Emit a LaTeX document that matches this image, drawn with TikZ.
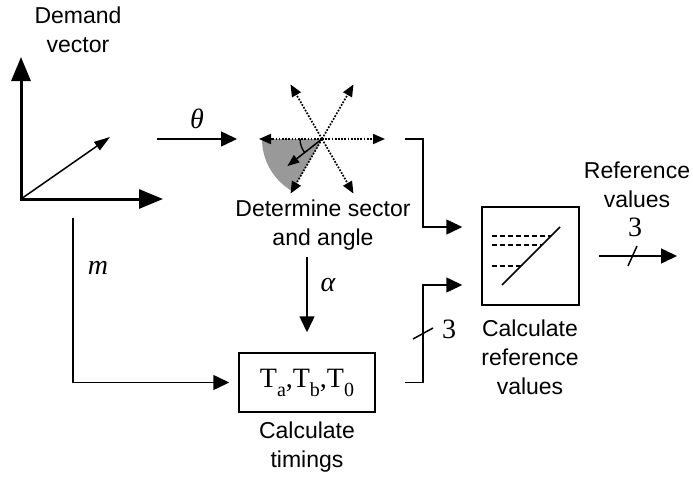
\documentclass[tikz,border=0pt]{standalone}
\usepackage{fontspec}
\setmainfont{Liberation Sans}
\newfontfamily\tmsfont{Liberation Serif}
\usetikzlibrary{arrows.meta,positioning,calc}

\begin{document}
\begin{tikzpicture}[
  x=1pt, y=-1pt,
  lbl/.style={align=center,font=\fontsize{23}{29}\selectfont,inner sep=0pt},
  sym/.style={font=\fontsize{28}{28}\selectfont\tmsfont\itshape,inner sep=0pt},
  num/.style={font=\fontsize{28}{28}\selectfont\tmsfont,inner sep=0pt},
  blk/.style={draw,line width=1.5pt,inner sep=0pt},
  arr/.style={line width=1.5pt,-{Triangle[length=16pt,width=15pt]}},
  axis/.style={line width=3pt,line join=miter,{Triangle[length=24pt,width=19pt]}-{Triangle[length=24pt,width=19pt]}},
  ray/.style={line width=1.7pt,dash pattern=on 1.7pt off 1.5pt,-{Triangle[length=12pt,width=10pt]}},
  tick/.style={line width=1.5pt}
]
\useasboundingbox (0,0) rectangle (693,479);

% demand vector
\node[lbl] (demand) at (78,30) {Demand\\vector};
\coordinate (origin) at (21,199);
\coordinate (vtip) at (21,57);
\coordinate (htip) at (163,199);
\coordinate (dtip) at (110,137);
\draw[axis] (vtip) -- (origin) -- (htip);
\draw[line width=1.5pt,-{Triangle[length=16pt,width=10pt]}] (origin) -- (dtip);

% theta
\coordinate (thA) at (157,139);
\coordinate (thB) at (237,139);
\draw[arr] (thA) -- (thB) node[sym,midway,above=9pt] (theta) {θ};

% sector star
\coordinate (sc) at (322,139);
\fill[black!40] (sc) -- ++(180:60) arc[start angle=180,end angle=120,radius=60] -- cycle;
\foreach \a in {0,60,...,300}
  \draw[ray] (sc) -- ++(\a:63) coordinate (e\a);
\draw[line width=1.3pt] ($(sc)+(180:22)$) arc[start angle=180,end angle=142,radius=22];
\draw[line width=1.5pt,-{Triangle[length=12pt,width=9pt]}] (sc) -- ++(142:44) coordinate (avec);
\node[lbl] (sector) at (323,225) {Determine sector\\and angle};

% timings
\node[blk,minimum width=136pt,minimum height=59pt,font=\fontsize{28}{28}\selectfont\tmsfont]
  (timing) at (307,382.5)
  {T\raisebox{-9pt}{\fontsize{20}{20}\selectfont a},T\raisebox{-9pt}{\fontsize{20}{20}\selectfont b},T\raisebox{-9pt}{\fontsize{20}{20}\selectfont 0}};
\node[lbl] (timcap) at (307,447) {Calculate\\timings};

% reference values
\node[blk,minimum width=97pt,minimum height=98pt] (refbox) at (530.5,256) {};
\draw[line width=1.5pt] ($(refbox.center)+(-28.5,29)$) -- ($(refbox.center)+(29.5,-29)$);
\foreach \y/\x in {-20/20.5,-11/11.5,10/-9.5}
  \draw[line width=1.4pt,dash pattern=on 5pt off 3pt] ($(refbox.center)+(-38.5,\y)$) -- ($(refbox.center)+(\x,\y)$);
\node[lbl] (refcap) at (530,357) {Calculate\\reference\\values};

% connectors
\coordinate (bendx) at (423,0);
\coordinate (mtop) at (73,218);
\coordinate (atop) at (307,257);
\coordinate (outend) at (677,256);
\draw[arr,shorten <=20pt,shorten >=19pt] (e0) -- (e0 -| bendx) |- ($(refbox.west)+(0,-29)$);
\draw[arr,shorten <=29pt,shorten >=19pt] (timing.east) -- (timing.east -| bendx) |- ($(refbox.west)+(0,29)$);
\draw[arr,shorten >=9pt] (mtop) |- (timing.west);
\draw[arr,shorten >=20pt] (atop) -- (timing.north);
\draw[arr,shorten <=19pt] (refbox.east) -- (outend);

% labels
\node[sym] (mlbl) at (98,268) {m};
\node[sym] (alpha) at (328,285) {α};
\draw[tick] (413,339) -- (433,328);
\node[num] (n3a) at (449,329) {3};
\draw[tick] (628,266) -- (637,246);
\node[num] (n3b) at (635,227) {3};
\node[lbl] (outlbl) at (637,185) {Reference\\values};
\end{tikzpicture}
\end{document}
